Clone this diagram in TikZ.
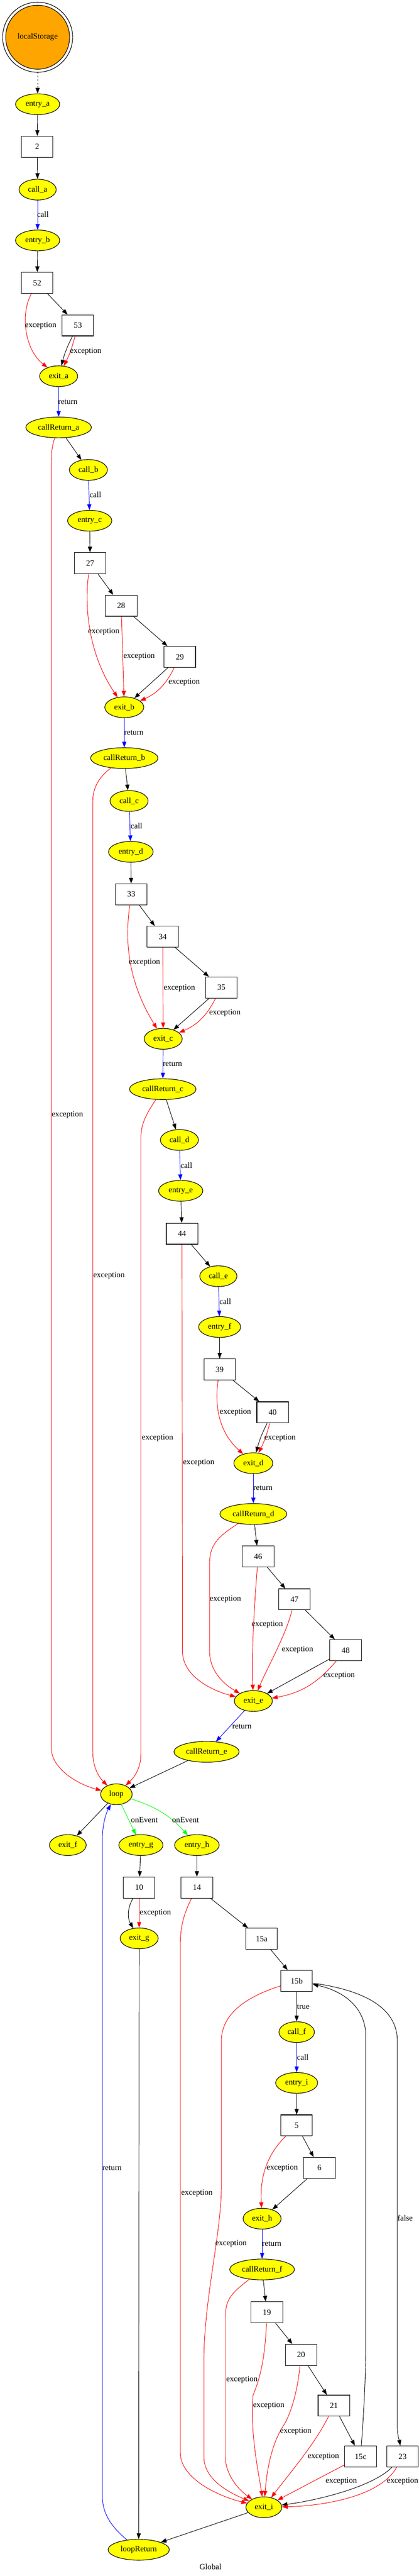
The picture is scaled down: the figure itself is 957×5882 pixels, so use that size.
\documentclass[tikz,border=0pt]{standalone}
\usepackage{fontspec}
\setmainfont{Liberation Serif}
\usetikzlibrary{arrows.meta,shapes.geometric}
\definecolor{gvorange}{HTML}{FFA500}
\definecolor{gvyellow}{HTML}{FFFF00}
\definecolor{gvgreen}{HTML}{00FF00}
\begin{document}
\begin{tikzpicture}[x=1pt,y=-1pt,
  every node/.style={font=\fontsize{18.4pt}{22pt}\selectfont},
  yel/.style={ellipse,draw,fill=gvyellow,line width=1.3pt,inner sep=0pt,minimum height=47.5pt,minimum width=#1},
  yel/.default=87pt,
  blk/.style={rectangle,draw,fill=white,line width=1.3pt,inner sep=0pt,minimum width=72pt,minimum height=48pt},
  lbl/.style={inner sep=0pt,text=black},
  tip/.style={-{Triangle[length=13pt,width=9.5pt]}},
  ctl/.style={tip,draw=black,line width=1.1pt},
  exc/.style={tip,draw=red,line width=1.1pt},
  cll/.style={tip,draw=blue,line width=1.1pt},
  evt/.style={tip,draw=gvgreen,line width=1.1pt},
  dsh/.style={-{Triangle[length=13pt,width=9.5pt]},draw=black,line width=1.1pt,dash pattern=on 3.5pt off 4.5pt}
]
\useasboundingbox (0,0) rectangle (957,5882);

% ---------- nodes ----------
\node[circle,draw,fill=gvorange,line width=1.3pt,minimum size=146pt,inner sep=0pt,outer sep=7pt] (ls) at (86,85) {localStorage};
\draw[line width=1.3pt] (ls.center) circle[radius=80pt];

\node[yel=101pt] (entry_a) at (86,238) {entry\_a};
\node[blk] (n2) at (85,335) {2};
\node[yel=85pt] (call_a) at (86,433) {call\_a};
\node[yel=101pt] (entry_b) at (86,549) {entry\_b};
\node[blk] (n52) at (85,646) {52};
\node[blk] (n53) at (178,743) {53};
\node[yel=87pt] (exit_a) at (134,859) {exit\_a};
\node[yel=150pt] (crA) at (134,976) {callReturn\_a};
\node[yel=87pt] (call_b) at (202,1073) {call\_b};
\node[yel=101pt] (entry_c) at (205,1189) {entry\_c};
\node[blk] (n27) at (206,1286) {27};
\node[blk] (n28) at (277,1383) {28};
\node[blk] (n29) at (411,1500) {29};
\node[yel=89pt] (exit_b) at (284,1615) {exit\_b};
\node[yel=154pt] (crB) at (284,1731) {callReturn\_b};
\node[yel=87pt] (call_c) at (295,1829) {call\_c};
\node[yel=102pt] (entry_d) at (299,1945) {entry\_d};
\node[blk] (n33) at (300,2042) {33};
\node[blk] (n34) at (372,2139) {34};
\node[blk] (n35) at (506,2255) {35};
\node[yel=87pt] (exit_c) at (373,2372) {exit\_c};
\node[yel=152pt] (crC) at (372,2487) {callReturn\_c};
\node[yel=87pt] (call_d) at (410,2603) {call\_d};
\node[yel=101pt] (entry_e) at (413,2719) {entry\_e};
\node[blk] (n44) at (416,2817) {44};
\node[yel=85pt] (call_e) at (499,2914) {call\_e};
\node[yel=96pt] (entry_f) at (502,3030) {entry\_f};
\node[blk] (n39) at (502,3127) {39};
\node[blk] (n40) at (623,3225) {40};
\node[yel=89pt] (exit_d) at (579,3341) {exit\_d};
\node[yel=153pt] (crD) at (579,3457) {callReturn\_d};
\node[blk] (n46) at (590,3554) {46};
\node[blk] (n47) at (673,3652) {47};
\node[blk] (n48) at (790,3768) {48};
\node[yel=87pt] (exit_e) at (579,3884) {exit\_e};
\node[yel=149pt] (crE) at (472,4000) {callReturn\_e};
\node[yel=72pt] (loop) at (266,4097) {loop};
\node[yel=84pt] (exit_f) at (155,4213) {exit\_f};
\node[yel=101pt] (entry_g) at (322,4213) {entry\_g};
\node[yel=102pt] (entry_h) at (450,4213) {entry\_h};
\node[blk] (n10) at (318,4310) {10};
\node[blk] (n14) at (450,4310) {14};
\node[yel=87pt] (exit_g) at (318,4426) {exit\_g};
\node[blk] (n15a) at (598,4427) {15a};
\node[blk] (n15b) at (678,4523) {15b};
\node[yel=81pt] (call_f) at (678,4640) {call\_f};
\node[yel=96pt] (entry_i) at (678,4756) {entry\_i};
\node[blk] (n5) at (678,4853) {5};
\node[blk] (n6) at (730,4950) {6};
\node[yel=87pt] (exit_h) at (599,5066) {exit\_h};
\node[yel=148pt] (crF) at (599,5182) {callReturn\_f};
\node[blk] (n19) at (610,5280) {19};
\node[blk] (n20) at (688,5377) {20};
\node[blk] (n21) at (763,5493) {21};
\node[blk] (n15c) at (824,5609) {15c};
\node[blk] (n23) at (920,5609) {23};
\node[yel=82pt] (exit_i) at (603,5725) {exit\_i};
\node[yel=140pt] (loopReturn) at (317,5822) {loopReturn};
\node[lbl] (glob) at (481,5861) {Global};

% ---------- edges ----------
\draw[dsh] (ls) -- (entry_a);
\draw[ctl] (entry_a) -- (n2);
\draw[ctl] (n2) -- (call_a);
\draw[cll] (call_a) -- (entry_b);
\node[lbl] at (98,490) {call};
\draw[ctl] (entry_b) -- (n52);
\draw[ctl] (n52) -- (n53);
\draw[exc] (n52) .. controls (45,720) and (58,800) .. (exit_a);
\node[lbl] at (93,743) {exception};
\draw[ctl] (n53) to[bend right=6] (exit_a);
\draw[exc] (n53) to[bend left=6] (exit_a);
\node[lbl] at (196,802) {exception};
\draw[cll] (exit_a) -- (crA);
\node[lbl] at (155,918) {return};
\draw[ctl] (crA) -- (call_b);
\draw[exc] (crA) .. controls (118,1020) and (117,1040) .. (117,1060) -- (117,3990) .. controls (117,4040) and (180,4075) .. (loop);
\node[lbl] at (154,2546) {exception};

\draw[cll] (call_b) -- (entry_c);
\node[lbl] at (218,1130) {call};
\draw[ctl] (entry_c) -- (n27);
\draw[ctl] (n27) -- (n28);
\draw[exc] (n27) .. controls (193,1380) and (200,1490) .. (exit_b);
\node[lbl] at (237,1442) {exception};
\draw[ctl] (n28) -- (n29);
\draw[exc] (n28) -- (exit_b);
\node[lbl] at (318,1499) {exception};
\draw[ctl] (n29) -- (exit_b);
\draw[exc] (n29) to[bend left=20] (exit_b);
\node[lbl] at (421,1557) {exception};
\draw[cll] (exit_b) -- (crB);
\node[lbl] at (306,1673) {return};
\draw[ctl] (crB) -- (call_c);
\draw[exc] (crB) .. controls (225,1775) and (212,1800) .. (212,1830) -- (212,4000) .. controls (212,4040) and (230,4062) .. (loop);
\node[lbl] at (249,2913) {exception};

\draw[cll] (call_c) -- (entry_d);
\node[lbl] at (312,1886) {call};
\draw[ctl] (entry_d) -- (n33);
\draw[ctl] (n33) -- (n34);
\draw[exc] (n33) .. controls (285,2150) and (292,2240) .. (exit_c);
\node[lbl] at (330,2197) {exception};
\draw[ctl] (n34) -- (n35);
\draw[exc] (n34) -- (exit_c);
\node[lbl] at (410,2256) {exception};
\draw[ctl] (n35) -- (exit_c);
\draw[exc] (n35) to[bend left=20] (exit_c);
\node[lbl] at (514,2313) {exception};
\draw[cll] (exit_c) -- (crC);
\node[lbl] at (394,2429) {return};
\draw[ctl] (crC) -- (call_d);
\draw[exc] (crC) .. controls (330,2550) and (322,2570) .. (322,2600) -- (322,4005) .. controls (322,4040) and (305,4060) .. (loop);
\node[lbl] at (360,3283) {exception};

\draw[cll] (call_d) -- (entry_e);
\node[lbl] at (426,2661) {call};
\draw[ctl] (entry_e) -- (n44);
\draw[ctl] (n44) -- (call_e);
\draw[exc] (n44) -- (417,3770) .. controls (417,3830) and (490,3862) .. (exit_e);
\node[lbl] at (454,3340) {exception};
\draw[cll] (call_e) -- (entry_f);
\node[lbl] at (515,2972) {call};
\draw[ctl] (entry_f) -- (n39);
\draw[ctl] (n39) -- (n40);
\draw[exc] (n39) .. controls (490,3210) and (500,3270) .. (exit_d);
\node[lbl] at (538,3225) {exception};
\draw[ctl] (n40) to[bend right=6] (exit_d);
\draw[exc] (n40) to[bend left=6] (exit_d);
\node[lbl] at (640,3283) {exception};
\draw[cll] (exit_d) -- (crD);
\node[lbl] at (601,3398) {return};
\draw[ctl] (crD) -- (n46);
\draw[exc] (crD) .. controls (495,3510) and (479,3530) .. (479,3570) -- (479,3770) .. controls (479,3815) and (510,3845) .. (exit_e);
\node[lbl] at (515,3652) {exception};
\draw[ctl] (n46) -- (n47);
\draw[exc] (n46) .. controls (580,3680) and (575,3780) .. (exit_e);
\node[lbl] at (611,3709) {exception};
\draw[ctl] (n47) -- (n48);
\draw[exc] (n47) .. controls (655,3730) and (610,3810) .. (exit_e);
\node[lbl] at (680,3767) {exception};
\draw[ctl] (n48) -- (exit_e);
\draw[exc] (n48) to[bend left=20] (exit_e);
\node[lbl] at (775,3826) {exception};
\draw[cll] (exit_e) -- (crE);
\node[lbl] at (553,3942) {return};
\draw[ctl] (crE) -- (loop);

\draw[ctl] (loop) -- (exit_f);
\draw[evt] (loop) -- (entry_g);
\node[lbl] at (330,4155) {onEvent};
\draw[evt] (loop) to[bend left=15] (entry_h);
\node[lbl] at (424,4155) {onEvent};
\draw[ctl] (entry_g) -- (n10);
\draw[ctl] (entry_h) -- (n14);
\draw[ctl] (n10) to[bend right=30] (exit_g);
\draw[exc] (n10) -- (exit_g);
\node[lbl] at (355,4368) {exception};
\draw[ctl] (exit_g) -- (loopReturn);
\draw[ctl] (n14) -- (n15a);
\draw[exc] (n14) .. controls (420,4370) and (412,4400) .. (412,4440) -- (412,5600) .. controls (412,5660) and (500,5700) .. (exit_i);
\node[lbl] at (450,5008) {exception};
\draw[ctl] (n15a) -- (n15b);
\draw[ctl] (n15b) -- (call_f);
\node[lbl] at (693,4582) {true};
\draw[exc] (n15b) .. controls (560,4560) and (506,4600) .. (506,4660) -- (506,4990) .. controls (506,5100) and (466,5250) .. (466,5390) -- (466,5610) .. controls (466,5660) and (520,5690) .. (exit_i);
\node[lbl] at (528,5123) {exception};
\draw[cll] (call_f) -- (entry_i);
\node[lbl] at (692,4697) {call};
\draw[ctl] (entry_i) -- (n5);
\draw[ctl] (n5) -- (n6);
\draw[exc] (n5) .. controls (610,4920) and (594,4970) .. (exit_h);
\node[lbl] at (645,4950) {exception};
\draw[ctl] (n6) -- (exit_h);
\draw[cll] (exit_h) -- (crF);
\node[lbl] at (621,5123) {return};
\draw[ctl] (crF) -- (n19);
\draw[exc] (crF) .. controls (530,5235) and (515,5250) .. (515,5290) -- (515,5610) .. controls (515,5650) and (545,5685) .. (exit_i);
\node[lbl] at (553,5434) {exception};
\draw[ctl] (n19) -- (n20);
\draw[exc] (n19) .. controls (605,5400) and (590,5440) .. (578,5470) .. controls (572,5560) and (590,5640) .. (exit_i);
\node[lbl] at (614,5493) {exception};
\draw[ctl] (n20) -- (n21);
\draw[exc] (n20) .. controls (680,5460) and (665,5510) .. (650,5535) .. controls (620,5580) and (610,5640) .. (exit_i);
\node[lbl] at (676,5551) {exception};
\draw[ctl] (n21) -- (n15c);
\draw[exc] (n21) .. controls (720,5580) and (660,5650) .. (exit_i);
\node[lbl] at (739,5609) {exception};
\draw[ctl] (n15c) .. controls (832,5500) and (836,5420) .. (836,5350) -- (836,4650) .. controls (836,4580) and (780,4545) .. (n15b);
\draw[exc] (n15c) -- (exit_i);
\node[lbl] at (780,5666) {exception};
\draw[ctl] (n15b) .. controls (800,4540) and (908,4570) .. (908,4660) -- (908,5540) .. controls (908,5560) and (912,5570) .. (n23);
\node[lbl] at (926,5065) {false};
\draw[ctl] (n23) .. controls (850,5680) and (720,5710) .. (exit_i);
\draw[exc] (n23) .. controls (870,5700) and (740,5722) .. (exit_i);
\node[lbl] at (920,5666) {exception};
\draw[ctl] (exit_i) -- (loopReturn);
\draw[cll] (loopReturn) .. controls (255,5770) and (234,5740) .. (234,5700) -- (234,4200) .. controls (234,4160) and (245,4135) .. (loop);
\node[lbl] at (256,4950) {return};
\end{tikzpicture}
\end{document}
